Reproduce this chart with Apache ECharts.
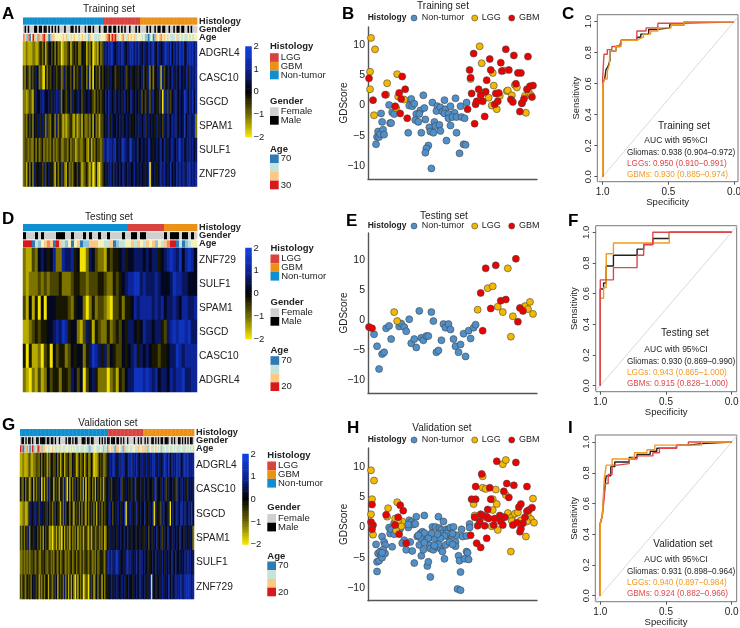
<!DOCTYPE html>
<html>
<head>
<meta charset="utf-8">
<style>html,body{margin:0;padding:0;background:#fff}#c{width:740px;height:628px}</style>
<script src="https://cdn.jsdelivr.net/npm/echarts@6/dist/echarts.min.js"></script>
</head>
<body>
<div id="c"></div>
<script>
// ---------- Heatmap data: one digit per sample, 0 = -2 ... 9 = +2 ----------
const genesTop = ['ADGRL4','CASC10','SGCD','SPAM1','SULF1','ZNF729'];
const genesRev = ['ZNF729','SULF1','SPAM1','SGCD','CASC10','ADGRL4'];

const heatA = [
 '1121112211 3424134535 2423012234 1343422544 1324012142 3 6767786567 6876567786 767 6576576786 5765678768 5767687856 787867',
 '3243263465 2310424356 4345236354 3524346345 2614053425 3 5464655344 5656345645 464 5635472524 5671635465 7646575657 476767',
 '2212321465 5676556464 6766254365 3645665364 5654324343 4 5757654756 5647545765 654 6353463675 4536076363 5676565687 576857',
 '2324362546 6464273254 2624312123 4213123142 2324152313 3 5647465565 6465656545 646 6567465654 6465365765 7676565685 676672',
 '2332322424 2342323242 3234223324 2331232234 2141324332 3 7687767856 5787657866 575 5656576545 6567574656 7656786756 676756',
 '2314252645 4536356453 1425362152 3245353123 4213014102 3 5646757465 6576566557 565 6546570656 4567675658 5657676766 786767'
];
const heatD = [
 '2113256545 7227667450 0265322143 44564 556665656645 67876857875',
 '2122232323 3342223443 3233344322 43456 778867666765 55687766555',
 '3151405055 5444432455 2024233210 33424 457677776767 56676577667',
 '1123434455 6768745521 3641432242 34354 665457665664 36787887866',
 '4041120340 5344235455 2468764635 43354 567465654434 45668767777',
 '2102131253 4424436535 0356422202 31435 668887876756 65767786677'
];
const heatG = [
 '1121112311 2233242534 1325433524 1351334225 4312423413 4225301124 34223 6576786567 6876567786 7676567 6576576786 5765678768 5767687856 78786767',
 '4325243135 1426350415 2635416351 4526304152 6353426140 5235241534 25134 5643554565 7345654475 6354564 4656455473 6554756346 5564736567 56475656',
 '1122113665 4765365646 3534263543 1526354253 1635242631 4253426153 42434 5675356575 4657065765 4674565 5745465607 5463675564 0575676587 47657685',
 '3242536254 6453425153 4312023141 2051423142 3241324134 2141342342 32412 5464565465 6546575465 5645654 6465356465 7456346576 5466565765 64654652',
 '2232323233 4234224343 2342324324 2343232342 3424324234 3243232423 44324 7768667876 5565786765 6475767 5656445657 5645754656 5765755656 57676756',
 '3243253425 4635132425 4153263514 3526241514 2031425013 2063413526 41524 4557564665 5756456554 6565766 5646570656 4565765658 5756767686 67878767'
];
// Samples per histology group: non-tumor, LGG, GBM
const groupsA = [51,23,36];
const groupsD = [35,12,11];
const groupsG = [65,27,38];
// Gender: 0 female, 1 male
const genderA = '0101000110 1101101010 1010001000 1101010001 0110100010 0 1101101101 0101001000 101 0000101001 0110110010 0101101100 101000';
const genderD = '1000101000 0111001000 1010010010 0001001101 1000000101 11011010';
const genderG = '0110101101 0011011110 1101101001 0000101101 0110001110 1101100001 01010 1101110110 1010010000 1001010 0101001101 0101101110 0101001101 01010110';
// Age class: 0 oldest ... 6 youngest
const ageA = '5415036425 1456420144 3333343423 2343323432 3143322223 3 3456465642 3453243434 233 3231102301 4345343232 2234232322 323233';
const ageD = '6660213454 0642130340 1144433224 01223 342432434132 45660201233';
const ageG = '6501452046 1426541443 3233432232 2322332323 2322322232 2112233222 32122 5434215443 2154223223 3224234 2441232234 3231223223 2232322232 22323232';

const colorbarLevels = [-2,-1.9,-1.8,-1.7,-1.6,-1.5,-1.4,-1.3,-1.2,-1.1,-1,-0.9,-0.8,-0.7,-0.6,-0.5,-0.4,-0.3,-0.2,-0.1,0,0.1,0.2,0.3,0.4,0.5,0.6,0.7,0.8,0.9,1,1.1,1.2,1.3,1.4,1.5,1.6,1.7,1.8,1.9,2];

// ---------- Scatter data: [sample rank, GDScore] ----------
const nonTumorB = [[8,-6.4],[9,-5.2],[11,-5.2],[10,-4.3],[12,-4.7],[15,-4],[16,-4.8],[13,-1.3],[14,-2.7],[21,0.1],[22,-2.9],[23,-2.9],[24,-1.1],[26,-1.4],[40,-4.5],[42,0.9],[43,1.1],[41,0],[44,-0.1],[46,0.3],[52,-0.8],[56,-0.4],[55,1.7],[48,-1.4],[51,-1.4],[47,-2.4],[50,-2.7],[53,-4.5],[57,-2.3],[61,-3.6],[62,-4.3],[65,-4.5],[66,-2.7],[67,-3.4],[71,-3.2],[72,-4.2],[60,-6.6],[58,-7.1],[57,-7.8],[63,-10.4],[64,0.5],[69,-0.1],[68,-0.9],[72,-0.3],[76,0.9],[74,-1],[77,-0.6],[76,-1.3],[80,-1.4],[82,-0.1],[80,-2.1],[82,-3.3],[78,-5.8],[87,1.2],[86,-1.2],[84,-1.9],[88,-1.9],[88,-4.5],[92,-0.1],[93,-1.9],[96,-2.1],[98,0.5],[95,-6.4],[97,-6.5],[91,-7.9]];
const lggB = [[3,11.2],[7,9.3],[2,5.6],[2,2.7],[6,-1.6],[18,1.8],[19,3.7],[29,5.2],[30,1.5],[36,1],[28,-0.4],[111,9.8],[113,7],[124,5.4],[102,4.4],[125,3.3],[115,2.1],[120,1.3],[123,0],[128,-0.6],[135,5.8],[138,2.4],[139,2.5],[131,1.6],[143,1.7],[146,3.4],[148,3],[153,0.4],[156,1.6],[157,-1.2],[160,2.1],[162,1.7]];
const gbmB = [[1,4.5],[5,0.9],[17,1.8],[27,-0.1],[31,2.1],[34,4.8],[33,1.1],[32,-1.3],[37,2.7],[39,-2.1],[101,5.9],[102,4.6],[105,8.6],[103,2],[99,-0.6],[106,-3],[107,0.2],[108,0.7],[110,2.7],[112,1.7],[114,0.7],[117,2.3],[118,4.2],[116,-1.8],[121,7.7],[122,5.9],[127,2],[126,0.2],[129,0.7],[130,2.1],[132,7.1],[133,5.7],[137,9.3],[140,5.9],[145,8.3],[142,1],[144,0.6],[147,3.6],[149,5.4],[152,5.4],[151,-1],[153,0.4],[155,1.1],[158,2.7],[159,8.1],[161,3.2],[164,3.3],[163,1.4]];

const nonTumorE = [[6,-2.4],[9,-4.4],[11,-8.2],[14,-5.7],[16,-5.4],[18,-1.4],[21,-1],[23,-3.2],[31,-1.1],[33,-0.6],[36,-1.2],[38,-1.9],[41,0.1],[43,-3.9],[46,-3.2],[48,-4.6],[51,1.5],[53,-3],[55,-3.4],[58,-2.7],[60,-2.7],[63,1.3],[65,-0.2],[68,-5.4],[70,-5.1],[73,-3.4],[75,-0.7],[77,-1.3],[80,-0.7],[82,-1.6],[85,-3.2],[87,-4.4],[90,-5.4],[92,-4.1],[95,-2.3],[97,-6.1],[100,-1.8],[102,-3.1],[105,-1.3],[107,-0.8]];
const lggE = [[26,1.3],[29,-0.2],[109,1.7],[119,5.3],[124,5.6],[129,2.2],[134,1.3],[139,8.6],[142,-2.8],[144,0.6],[156,2.3],[159,1.8],[161,3],[164,1]];
const gbmE = [[1,-1.2],[4,-1.4],[112,4.5],[114,-1.8],[117,8.6],[122,1.9],[127,9.1],[132,3.2],[137,3.4],[147,10.2],[149,-0.3],[151,2],[154,1.5]];

const nonTumorH = [[8,-2.8],[9,-5.7],[9,-7.3],[11,-5.5],[10,-4.3],[12,-4],[13,-4.6],[14,-5],[14,-1.5],[16,-2.4],[17,-2.9],[17,-4.3],[15,-3.7],[14,-4.2],[21,0],[22,-1],[23,-0.3],[24,-3.2],[26,0.7],[26,-1.1],[28,-0.5],[30,0.4],[32,-0.2],[36,-2.1],[38,-3.7],[40,0],[41,1.2],[42,-2.4],[44,-3.9],[43,0.9],[45,0.5],[40,0.5],[46,-5.9],[47,0.6],[48,1.8],[49,-1.5],[52,-1],[51,-2.9],[53,-1.8],[53,-4.7],[55,-3.7],[56,2],[54,-0.7],[56,-0.9],[58,-2.1],[59,-6.4],[60,-5.7],[61,-2.9],[62,-3.5],[62,-8.2],[64,0.1],[65,-3.7],[66,-1.8],[67,0.1],[68,-3.2],[70,1.8],[71,-0.1],[72,-3.5],[73,-0.4],[74,-1],[75,1],[74,-4],[76,-5.2],[78,-0.3],[77,-2.9],[79,-1.4],[80,-0.4],[81,-2.4],[82,0],[83,-1.3],[85,0.1],[87,-2.4],[87,-3.1],[88,-1.3],[89,-10.2],[92,-10.4],[90,-4.7],[91,-5.5],[92,-7.4],[93,-0.3],[94,-1.5],[96,-5.2],[98,-4],[99,-4.2],[100,-5.3],[98,-1.4],[101,0.6],[101,0],[78,-1],[76,-1.4],[84,-1],[72,-1.8],[69,-1.1],[63,-1],[34,-2.6],[50,-1.3],[60,-1.8],[70,-2.8],[84,-2.8],[66,-3],[56,-2.5]];
const lggH = [[3,9.5],[6,7.8],[4,4.7],[3,2.2],[5,-1.2],[20,3.2],[19,1.8],[29,4.2],[27,1.5],[34,1],[33,0.2],[28,-0.5],[30,1.2],[105,3.9],[106,2],[108,1.7],[114,8.5],[114,6.6],[117,6.4],[127,6.3],[124,4.7],[128,3.9],[124,2.9],[117,1.7],[123,0.2],[129,-0.4],[134,10.5],[137,11.2],[137,5.4],[139,2.4],[133,1.8],[143,1.7],[143,1.1],[146,2.3],[149,2.5],[142,-4],[157,-1.5],[159,2],[162,1.4],[165,0.8],[164,4.8],[152,1.2],[158,1]];
const gbmH = [[4,3.8],[3,0.9],[5,0.4],[4,-0.3],[18,2.1],[30,1.7],[27,0.4],[31,-1.1],[32,3.7],[35,2.8],[38,-2.6],[103,4.7],[107,4.7],[106,1.7],[102,-1.3],[107,6.8],[113,8.9],[108,-2.6],[112,-3.3],[109,0.3],[111,1],[112,2.2],[114,2],[116,0.3],[118,1.8],[119,3],[120,1.5],[118,-1.8],[121,6.6],[122,4.7],[125,0.4],[126,1.5],[128,11],[131,2],[132,1],[134,0.4],[135,6],[138,7.3],[140,5],[136,1.7],[145,7],[147,10.8],[144,0.4],[148,0.8],[151,-0.7],[152,-0.2],[150,3.4],[152,3.9],[156,1.7],[158,2.7],[158,6.8],[160,2.9],[163,3.3],[154,0.7]];

// ---------- ROC data: [specificity, sensitivity] ----------
const rocGliomasC = [[1,0],[1,.61],[.985,.63],[.975,.69],[.96,.71],[.945,.75],[.945,.81],[.90,.84],[.87,.85],[.86,.88],[.74,.90],[.71,.92],[.65,.95],[.58,.96],[.49,.98],[.38,1],[0,1]];
const rocLggC = [[1,0],[1,.64],[.99,.79],[.965,.82],[.93,.84],[.90,.85],[.86,.88],[.74,.94],[.67,.96],[.58,.99],[.38,1],[0,1]];
const rocGbmC = [[1,0],[1,.59],[.985,.63],[.965,.68],[.95,.72],[.945,.81],[.90,.84],[.86,.88],[.74,.89],[.72,.90],[.69,.92],[.635,.94],[.58,.96],[.48,.98],[.38,1],[0,1]];
const rocGliomasF = [[1,0],[1,.63],[.975,.67],[.955,.78],[.90,.85],[.72,.89],[.67,.92],[.6,.96],[.475,1],[0,1]];
const rocLggF = [[1,0],[1,.57],[.975,.64],[.955,.86],[.90,.93],[.475,1],[0,1]];
const rocGbmF = [[1,0],[1,.69],[.90,.77],[.72,.85],[.67,.92],[.6,1],[0,1]];
const rocGliomasI = [[1,0],[1,.47],[.985,.52],[.97,.68],[.955,.78],[.92,.84],[.89,.87],[.78,.90],[.72,.92],[.62,.94],[.57,.96],[.42,.98],[.33,.99],[.23,1],[0,1]];
const rocLggI = [[1,0],[1,.47],[.985,.52],[.97,.76],[.955,.85],[.91,.89],[.78,.90],[.74,.93],[.645,.95],[.585,.98],[.23,1],[0,1]];
const rocGbmI = [[1,0],[1,.47],[.985,.52],[.97,.64],[.96,.73],[.94,.79],[.91,.85],[.87,.86],[.78,.89],[.72,.91],[.60,.93],[.55,.96],[.42,.98],[.33,1],[0,1]];

// ---------- Styling ----------
const FONT = '"Liberation Sans", Arial, sans-serif';
const TXT = '#222';
const HIST = ['#0f8fcf','#d8423f','#ec9118'];
const GENDER = ['#d0d0d0','#000000'];
const AGE = ['#2f79b5','#8cc4d8','#c5e4d8','#f6f1b8','#fdc784','#f08a5d','#d7191c'];
const STRIP = [...HIST,...GENDER,...AGE];
const RED='#e0474c', ORANGE='#f29a1f';
const minus = v => String(v).replace('-', '\u2212');

const grid=[], xAxis=[], yAxis=[], series=[], graphic=[], heatIdx=[];
const digits = s => s.replace(/\s/g,'').split('').map(Number);
const idxList = n => Array.from({length:n},(_,i)=>i);

function addAxes(g, x, y){
  const gi = grid.length; grid.push(Object.assign({outerBoundsMode:'none'},g));
  const xi = xAxis.length; xAxis.push(Object.assign({gridIndex:gi},x));
  const yis = [];
  (Array.isArray(y)?y:[y]).forEach(a=>{yis.push(yAxis.length); yAxis.push(Object.assign({gridIndex:gi},a));});
  return {xi, yi:yis[0]};
}
function text(x,y,str,o={}){
  graphic.push({type:'text',silent:true,style:{x,y,text:str,fill:o.fill||TXT,
    font:`${o.bold?'bold ':''}${o.size||10}px ${FONT}`,textAlign:o.align||'left',textVerticalAlign:'middle'}});
}
function rect(x,y,w,h,fill){graphic.push({type:'rect',silent:true,shape:{x,y,width:w,height:h},style:{fill}});}
function dot(x,y,fill){graphic.push({type:'circle',silent:true,shape:{cx:x,cy:y,r:3},style:{fill,stroke:'#444',lineWidth:.6}});}

function heatPanel(p){
  const rows = p.rows.map(digits), n = rows[0].length, cats = idxList(n);
  const hist = p.groups.flatMap((c,i)=>Array(c).fill(i));
  const gen = digits(p.gender), age = digits(p.age);
  const stripData=[];
  cats.forEach(i=>{
    stripData.push([i,0,hist[i]]);
    stripData.push([i,1,3+(gen[i]||0)]);
    stripData.push([i,2,5+(age[i]||0)]);
  });
  const a = addAxes({left:p.x,top:p.stripTop,width:p.w,height:p.stripH},
    {type:'category',data:cats,show:false},
    {type:'category',data:['Histology','Gender','Age'],inverse:true,position:'right',
     axisLine:{show:false},axisTick:{show:false},
     axisLabel:{interval:0,margin:2,fontFamily:FONT,fontWeight:'bold',fontSize:9.2,color:TXT}});
  series.push({type:'custom',xAxisIndex:a.xi,yAxisIndex:a.yi,silent:true,animation:false,data:stripData,
    encode:{x:0,y:1},
    renderItem(params,api){
      const c=api.coord([api.value(0),api.value(1)]), s=api.size([1,1]);
      return {type:'rect',shape:{x:c[0]-s[0]/2,y:c[1]-s[1]/2+.5,width:s[0]+.4,height:s[1]-1},
        style:{fill:STRIP[api.value(2)]}};
    }});
  const data=[];
  rows.forEach((r,ri)=>r.forEach((d,ci)=>data.push([ci,ri,-2+d*4/9])));
  const b = addAxes({left:p.x,top:p.top,width:p.w,height:p.h},
    {type:'category',data:cats,show:false},
    {type:'category',data:p.genes,inverse:true,position:'right',
     axisLine:{show:false},axisTick:{show:false},
     axisLabel:{interval:0,margin:2,fontFamily:FONT,fontSize:10.2,color:TXT}});
  heatIdx.push(series.length);
  series.push({type:'heatmap',xAxisIndex:b.xi,yAxisIndex:b.yi,data,silent:true,animation:false,progressive:0,itemStyle:{borderWidth:0}});
  const cb = addAxes({left:p.cbX,top:p.cbY,width:6,height:p.cbH},
    {type:'category',data:['c'],show:false},
    [{type:'category',data:colorbarLevels,show:false},
     {type:'value',min:-2,max:2,position:'right',axisLine:{show:false},axisTick:{show:false},splitLine:{show:false},
      axisLabel:{customValues:[-2,-1,0,1,2],margin:2,fontFamily:FONT,fontSize:9.5,color:TXT,formatter:minus}}]);
  heatIdx.push(series.length);
  series.push({type:'heatmap',xAxisIndex:cb.xi,yAxisIndex:cb.yi,silent:true,animation:false,progressive:0,
    data:colorbarLevels.map((v,i)=>[0,i,v])});
  text(p.titleX,p.titleY,p.title,{align:'center',size:10});
  const L=p.legX, sw=8.7;
  text(L,p.histY,'Histology',{bold:true,size:9.5});
  [['LGG',HIST[1]],['GBM',HIST[2]],['Non-tumor',HIST[0]]].forEach((e,i)=>{
    const y=p.histY+6.5+i*sw; rect(L,y,sw,sw,e[1]); text(L+sw+2,y+sw/2,e[0],{size:9.5});});
  text(L,p.genY,'Gender',{bold:true,size:9.5});
  [['Female',GENDER[0]],['Male',GENDER[1]]].forEach((e,i)=>{
    const y=p.genY+6.3+i*sw; rect(L,y,sw,sw,e[1]); text(L+sw+2,y+sw/2,e[0],{size:9.5});});
  text(L,p.ageY,'Age',{bold:true,size:9.5});
  [AGE[0],AGE[2],AGE[4],AGE[6]].forEach((c,i)=>rect(L,p.ageY+5.5+i*sw,sw,sw,c));
  text(L+sw+2,p.ageY+5.5+sw/2,'70',{size:9.5});
  text(L+sw+2,p.ageY+5.5+3.5*sw,p.ageLow,{size:9.5});
  text(p.letterX,p.letterY,p.letter,{bold:true,size:17,fill:'#000'});
}

function scatterPanel(p){
  const a = addAxes({left:368,top:p.top,width:169,height:p.bottom-p.top},
    {type:'value',min:0,max:168,axisLine:{onZero:false,lineStyle:{color:'#555',width:1.4}},axisTick:{show:false},axisLabel:{show:false},splitLine:{show:false}},
    {type:'value',min:p.min,max:p.max,name:'GDScore',nameLocation:'middle',nameGap:19,nameRotate:90,nameMoveOverlap:false,
     nameTextStyle:{fontFamily:FONT,fontSize:10,color:TXT},
     axisLine:{show:true,onZero:false,lineStyle:{color:'#555',width:1.4}},axisTick:{show:false},splitLine:{show:false},
     axisLabel:{customValues:[-10,-5,0,5,10],margin:3,fontFamily:FONT,fontSize:10.5,color:TXT,formatter:minus}});
  [[p.non,'#4f90ca','Non-tumor'],[p.lgg,'#f5b800','LGG'],[p.gbm,'#ee0000','GBM']].forEach(s=>{
    series.push({type:'scatter',name:s[2],xAxisIndex:a.xi,yAxisIndex:a.yi,data:s[0],symbolSize:7,silent:true,animation:false,
      itemStyle:{color:s[1],borderColor:'#444',borderWidth:.6,opacity:1}});
  });
  text(p.titleX,p.titleY,p.title,{align:'center',size:10});
  const y=p.legY;
  text(367.7,y,'Histology',{bold:true,size:8.5});
  dot(414,y,'#4f90ca'); text(421.7,y,'Non-tumor',{size:9});
  dot(474.7,y,'#f5b800'); text(481.7,y,'LGG',{size:9});
  dot(511.7,y,'#ee0000'); text(519,y,'GBM',{size:9});
  text(p.letterX,p.letterY,p.letter,{bold:true,size:17,fill:'#000'});
}

function rocPanel(p){
  const a = addAxes({left:p.x0,top:p.y0,width:p.x1-p.x0,height:p.y1-p.y0,show:true,borderColor:'#777',borderWidth:1,backgroundColor:'transparent'},
    {type:'value',inverse:true,min:p.xMin,max:p.xMax,name:'Specificity',nameLocation:'middle',nameGap:16,nameMoveOverlap:false,
     nameTextStyle:{fontFamily:FONT,fontSize:9.5,color:TXT},
     axisLine:{show:false,onZero:false},splitLine:{show:false},
     axisTick:{show:true,length:3,customValues:[0,.5,1],lineStyle:{color:'#555'}},
     axisLabel:{customValues:[0,.5,1],margin:6,fontFamily:FONT,fontSize:10,color:TXT,formatter:v=>(+v).toFixed(1)}},
    {type:'value',min:p.yMin,max:p.yMax,name:'Sensitivity',nameLocation:'middle',nameGap:16,nameRotate:90,nameMoveOverlap:false,
     nameTextStyle:{fontFamily:FONT,fontSize:9.5,color:TXT},
     axisLine:{show:false,onZero:false},splitLine:{show:false},
     axisTick:{show:true,length:3,customValues:[0,.2,.4,.6,.8,1],lineStyle:{color:'#555'}},
     axisLabel:{customValues:[0,.2,.4,.6,.8,1],rotate:90,margin:4,fontFamily:FONT,fontSize:9.5,color:TXT,formatter:v=>(+v).toFixed(1)}});
  const line=(data,color,w,step)=>series.push({type:'line',xAxisIndex:a.xi,yAxisIndex:a.yi,data,showSymbol:false,silent:true,animation:false,
    step:step?'end':false,lineStyle:{color,width:w},clip:true});
  line([[1.06,-.06],[-.06,1.06]],'#cfcfcf',.8,false);
  line(p.black,'#222',1.4,true);
  p.order.forEach(s=>line(s[0],s[1],1.4,true));
  text(p.nameX,p.nameY,p.name,{align:'center',size:10});
  text(676,p.aucY,'AUC with 95%CI',{align:'center',size:8.5});
  p.lines.forEach((l,i)=>text(627,p.aucY+11.3+i*11.4,l[0],{size:8.2,fill:l[1]}));
  text(p.letterX,p.letterY,p.letter,{bold:true,size:17,fill:'#000'});
}

// ---------- Panels ----------
heatPanel({letter:'A',letterX:2,letterY:14,title:'Training set',titleX:109,titleY:9,rows:heatA,genes:genesTop,groups:groupsA,gender:genderA,age:ageA,
  x:23,w:174,stripTop:17,stripH:24.5,top:41.5,h:145,cbX:245.5,cbY:46.5,cbH:90.5,legX:270,histY:46.7,genY:101,ageY:149,ageLow:'30'});
heatPanel({letter:'D',letterX:2,letterY:219,title:'Testing set',titleX:109,titleY:217,rows:heatD,genes:genesRev,groups:groupsD,gender:genderD,age:ageD,
  x:23,w:174,stripTop:223.5,stripH:24.5,top:248,h:144,cbX:245.5,cbY:248,cbH:91,legX:270.5,histY:248,genY:302,ageY:350.7,ageLow:'20'});
heatPanel({letter:'G',letterX:2,letterY:425,title:'Validation set',titleX:108,titleY:423,rows:heatG,genes:genesTop,groups:groupsG,gender:genderG,age:ageG,
  x:20,w:174,stripTop:428.5,stripH:24.5,top:453,h:146,cbX:242.5,cbY:454,cbH:90.5,legX:267.3,histY:455,genY:507.7,ageY:556,ageLow:'20'});

scatterPanel({letter:'B',letterX:342,letterY:14,title:'Training set',titleX:443,titleY:6,legY:18,top:27,bottom:179,min:-12.15,max:13,non:nonTumorB,lgg:lggB,gbm:gbmB});
scatterPanel({letter:'E',letterX:346,letterY:221,title:'Testing set',titleX:444,titleY:216,legY:226,top:233,bottom:393,min:-12.2,max:14.5,non:nonTumorE,lgg:lggE,gbm:gbmE});
scatterPanel({letter:'H',letterX:347,letterY:428,title:'Validation set',titleX:442,titleY:428,legY:440,top:448,bottom:600.7,min:-12.15,max:13.2,non:nonTumorH,lgg:lggH,gbm:gbmH});

rocPanel({letter:'C',letterX:562,letterY:14,x0:597.3,x1:738,y0:14.7,y1:181.7,xMin:-.03,xMax:1.041,yMin:-.032,yMax:1.045,
  black:rocGliomasC,order:[[rocLggC,RED],[rocGbmC,ORANGE]],name:'Training set',nameX:684,nameY:126.7,aucY:141,
  lines:[['Gliomas: 0.938 (0.904\u20130.972)','#222'],['LGGs: 0.950 (0.910\u20130.991)',RED],['GBMs: 0.930 (0.885\u20130.974)',ORANGE]]});
rocPanel({letter:'F',letterX:568,letterY:221,x0:595.7,x1:736.7,y0:225.7,y1:391.7,xMin:-.038,xMax:1.035,yMin:-.039,yMax:1.043,
  black:rocGliomasF,order:[[rocLggF,ORANGE],[rocGbmF,RED]],name:'Testing set',nameX:685,nameY:333.3,aucY:350,
  lines:[['Gliomas: 0.930 (0.869\u20130.990)','#222'],['LGGs: 0.943 (0.865\u20131.000)',ORANGE],['GBMs: 0.915 (0.828\u20131.000)',RED]]});
rocPanel({letter:'I',letterX:568,letterY:428,x0:595.3,x1:736.7,y0:435,y1:601.7,xMin:-.038,xMax:1.038,yMin:-.039,yMax:1.046,
  black:rocGliomasI,order:[[rocGbmI,RED],[rocLggI,ORANGE]],name:'Validation set',nameX:683,nameY:544,aucY:560,
  lines:[['Gliomas: 0.931 (0.898\u20130.964)','#222'],['LGGs: 0.940 (0.897\u20130.984)',ORANGE],['GBMs: 0.924 (0.882\u20130.966)',RED]]});

const chart = echarts.init(document.getElementById('c'),null,{renderer:'canvas'});
chart.setOption({
  animation:false, backgroundColor:'#fff', tooltip:{show:false},
  grid, xAxis, yAxis, series, graphic:{elements:graphic},
  visualMap:[{show:false,type:'continuous',min:-2,max:2,dimension:2,seriesIndex:heatIdx,
    inRange:{color:['#f2e300','#6e6600','#000000','#0d2290','#1040e0']}}]
});
</script>
</body>
</html>
